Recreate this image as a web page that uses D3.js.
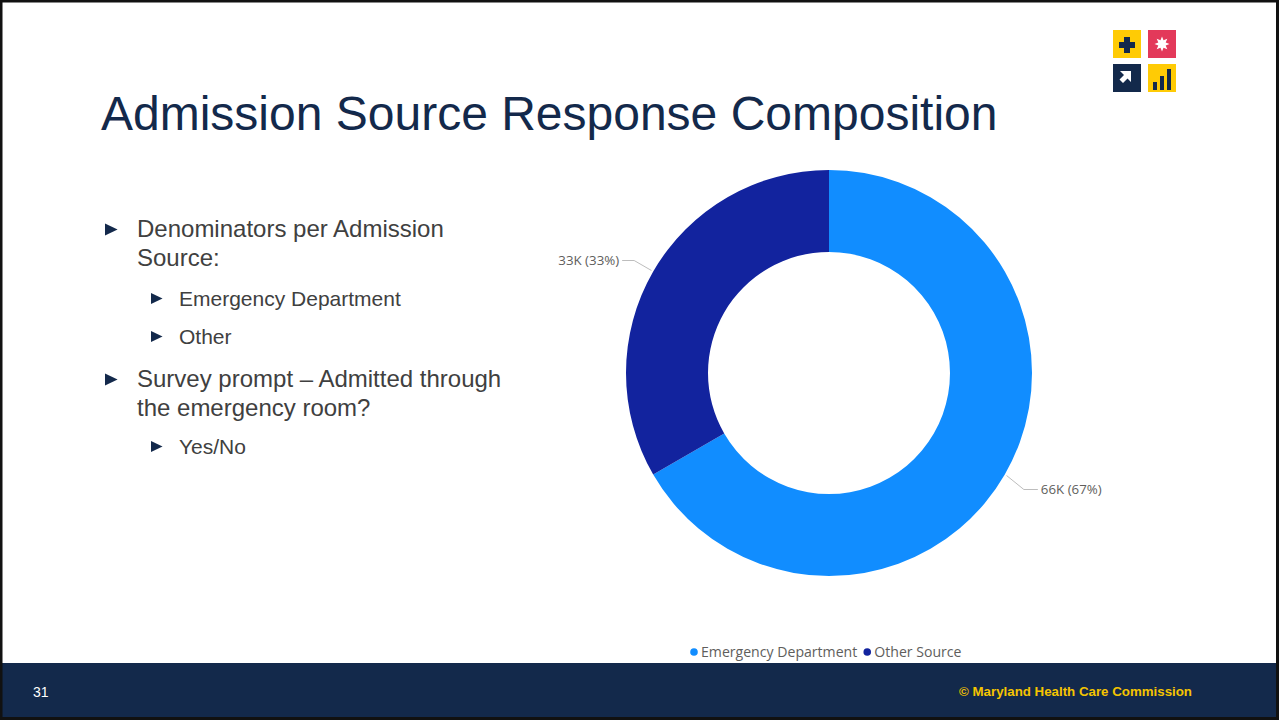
<!DOCTYPE html>
<html><head><meta charset="utf-8">
<script src="https://cdn.jsdelivr.net/npm/d3@7"></script>
<style>html,body{margin:0;padding:0;background:#fff;overflow:hidden}</style>
</head><body><svg id="c" width="1279" height="721"></svg>
<script>
const categories = ["Emergency Department", "Other Source"];
const values = [66, 33]; // thousands
const colors = ["#118DFF", "#12239E"];
const valueLabels = ["66K", "33K"];

const svg = d3.select("#c");
const W = 1279, H = 721;
const arial = "'Liberation Sans', Arial, sans-serif";
svg.append("rect").attr("width", W).attr("height", H).attr("fill", "#fff");

// Chart visual box
svg.append("rect").attr("x", 550).attr("y", 160).attr("width", 555).attr("height", 504).attr("fill", "#fff");

// Footer
svg.append("rect").attr("x", 0).attr("y", 663).attr("width", W).attr("height", 55).attr("fill", "#13294B");
svg.append("rect").attr("x", 550).attr("y", 660).attr("width", 555).attr("height", 3).attr("fill", "#fff");
svg.append("text").attr("x", 33).attr("y", 697).attr("fill", "#fff")
  .style("font-family", arial).style("font-size", "14px").text("31");
svg.append("text").attr("x", 1192).attr("y", 696).attr("text-anchor", "end").attr("fill", "#F5C400")
  .style("font-family", arial).style("font-size", "13.3px").style("font-weight", "bold")
  .text("© Maryland Health Care Commission");

// Slide border
svg.append("rect").attr("x", 1).attr("y", 1).attr("width", W - 2.5).attr("height", H - 3.5)
  .attr("fill", "none").attr("stroke", "#111").attr("stroke-width", 3);

// Title
svg.append("text").attr("x", 101).attr("y", 130).attr("fill", "#13294B")
  .style("font-family", arial).style("font-size", "48px")
  .text("Admission Source Response Composition");

// Logo
const logo = svg.append("g");
const ly = "#FFCB05", lr = "#E3395A", ln = "#13294B";
logo.append("rect").attr("x", 1113).attr("y", 30).attr("width", 28).attr("height", 28).attr("fill", ly);
logo.append("rect").attr("x", 1148).attr("y", 30).attr("width", 28).attr("height", 28).attr("fill", lr);
logo.append("rect").attr("x", 1113).attr("y", 64).attr("width", 28).attr("height", 28).attr("fill", ln);
logo.append("rect").attr("x", 1148).attr("y", 64).attr("width", 28).attr("height", 28).attr("fill", ly);
logo.append("path").attr("d", "M1124,37h6v5h5v6h-5v5h-6v-5h-5v-6h5z").attr("fill", ln);
const star = d3.range(16).map(i => {
  const a = i * Math.PI / 8, r = i % 2 ? 4 : 7.5;
  return [1162 + r * Math.sin(a), 44 - r * Math.cos(a)];
});
logo.append("path").attr("d", "M" + star.join("L") + "Z").attr("fill", "#fff");
logo.append("path").attr("d", "M1120,71h11v11l-3.5,-3.5l-4.5,4.5l-3.5,-3.5l4.5,-4.5z").attr("fill", "#fff");
logo.append("rect").attr("x", 1153).attr("y", 82).attr("width", 4).attr("height", 8).attr("fill", ln);
logo.append("rect").attr("x", 1160).attr("y", 76).attr("width", 4).attr("height", 14).attr("fill", ln);
logo.append("rect").attr("x", 1167).attr("y", 69).attr("width", 4).attr("height", 21).attr("fill", ln);

// Bullets
const bullets = [
  {lvl: 0, lines: ["Denominators per Admission", "Source:"], y: 237},
  {lvl: 1, lines: ["Emergency Department"], y: 306},
  {lvl: 1, lines: ["Other"], y: 344},
  {lvl: 0, lines: ["Survey prompt – Admitted through", "the emergency room?"], y: 387},
  {lvl: 1, lines: ["Yes/No"], y: 454}
];
bullets.forEach(b => {
  const tx = b.lvl === 0 ? 137 : 179;
  const bx = b.lvl === 0 ? 105 : 151;
  const fs = b.lvl === 0 ? 24 : 21;
  const s = b.lvl === 0 ? 12 : 11;
  const cy = b.y - 7.5;
  svg.append("path").attr("d", `M${bx},${cy - s / 2}L${bx + s * 1.05},${cy}L${bx},${cy + s / 2}Z`).attr("fill", "#13294B");
  b.lines.forEach((l, i) => {
    svg.append("text").attr("x", tx).attr("y", b.y + i * 29).attr("fill", "#404040")
      .style("font-family", arial).style("font-size", fs + "px").text(l);
  });
});

// Donut
const cx = 829, cy = 373, R = 203, r0 = 121;
const total = d3.sum(values);
const pie = d3.pie().sort(null).value(d => d)(values);
const arc = d3.arc().innerRadius(r0).outerRadius(R);
const g = svg.append("g").attr("transform", `translate(${cx},${cy})`);
g.selectAll("path").data(pie).join("path").attr("d", arc).attr("fill", (d, i) => colors[i]);

const labelFont = "'Segoe UI', 'Open Sans', 'DejaVu Sans', sans-serif";
pie.forEach((d, i) => {
  const mid = (d.startAngle + d.endAngle) / 2;
  const pct = Math.round(values[i] / total * 100);
  const txt = `${valueLabels[i]} (${pct}%)`;
  const right = Math.sin(mid) > 0;
  const p0 = [Math.sin(mid) * (R + 2), -Math.cos(mid) * (R + 2)];
  const p1 = [Math.sin(mid) * (R + 22), -Math.cos(mid) * (R + 22) + (right ? 4 : 0)];
  const p2 = [p1[0] + (right ? 14 : -12), p1[1]];
  g.append("polyline").attr("points", [p0, p1, p2].map(p => p.join(",")).join(" "))
    .attr("fill", "none").attr("stroke", "#bdbdbd").attr("stroke-width", 1);
  g.append("text").attr("x", p2[0] + (right ? 3 : -3)).attr("y", p2[1] + 4.5)
    .attr("text-anchor", right ? "start" : "end").attr("fill", "#605E5C")
    .style("font-family", labelFont).style("font-size", "13.3px").text(txt);
});

// Legend
const lg = svg.append("g").style("font-family", labelFont).style("font-size", "14.1px");
let lx = 694;
categories.forEach((c, i) => {
  lg.append("circle").attr("cx", lx).attr("cy", 652).attr("r", 3.8).attr("fill", colors[i]);
  const t = lg.append("text").attr("x", lx + 7).attr("y", 657).attr("fill", "#605E5C").text(c);
  lx += 7 + t.node().getComputedTextLength() + 10;
});
</script></body></html>
